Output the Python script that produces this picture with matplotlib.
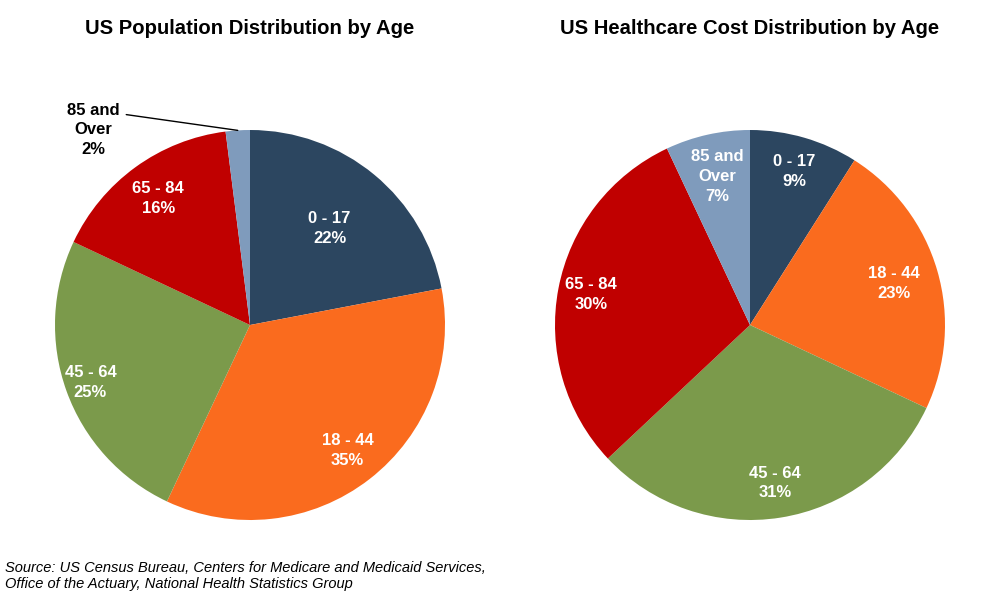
import numpy as np
import matplotlib
matplotlib.use("Agg")
import matplotlib.pyplot as plt

plt.rcParams['font.family'] = ['Liberation Sans', 'DejaVu Sans']

categories = ["0 - 17", "18 - 44", "45 - 64", "65 - 84", "85 and\nOver"]
population = [22, 35, 25, 16, 2]
healthcare = [9, 23, 31, 30, 7]
titles = ["US Population Distribution by Age", "US Healthcare Cost Distribution by Age"]
colors = ["#2C4660", "#FA6B1E", "#7B9A4B", "#C00000", "#7F9BBC"]
source = ("Source: US Census Bureau, Centers for Medicare and Medicaid Services,\n"
          "Office of the Actuary, National Health Statistics Group")

W, H = 1000, 611
fig = plt.figure(figsize=(W / 100, H / 100), dpi=100)

R = 195
centers = [(250, 325), (750, 325)]
# per-label radial distances (fraction of radius)
label_r = [[0.64, 0.815, 0.87, 0.80, None],
           [0.82, 0.77, 0.82, 0.83, 0.78]]
LS = 1.4

for k, (vals, title) in enumerate(zip([population, healthcare], titles)):
    cx, cy = centers[k]
    ax = fig.add_axes([(cx - R) / W, (H - cy - R) / H, 2 * R / W, 2 * R / H])
    wedges, _ = ax.pie(vals, colors=colors, startangle=90, counterclock=False,
                       wedgeprops=dict(linewidth=0))
    ax.set_xlim(-1, 1)
    ax.set_ylim(-1, 1)
    ax.set_aspect('equal')
    for i, w in enumerate(wedges):
        mid = np.deg2rad((w.theta1 + w.theta2) / 2)
        txt = f"{categories[i]}\n{vals[i]}%"
        rr = label_r[k][i]
        if rr is None:
            ax.annotate(txt, xy=(np.cos(mid), np.sin(mid)), xytext=(-0.805, 1.0),
                        ha="center", va="center", fontsize=12, fontweight="bold",
                        color="black", linespacing=LS,
                        arrowprops=dict(arrowstyle="-", color="black", lw=1,
                                        relpos=(1.0, 0.80), shrinkA=3, shrinkB=0))
        else:
            ax.text(rr * np.cos(mid), rr * np.sin(mid), txt, ha="center", va="center",
                    fontsize=12, fontweight="bold", color="white", linespacing=LS)
    fig.text(cx / W, 1 - 28 / H, title, ha="center", va="center",
             fontsize=14.6, fontweight="bold")

fig.text(5 / W, 1 - 576 / H, source, ha="left", va="center", fontsize=10.5,
         style="italic", linespacing=1.2)

fig.savefig("out.png", dpi=100)
